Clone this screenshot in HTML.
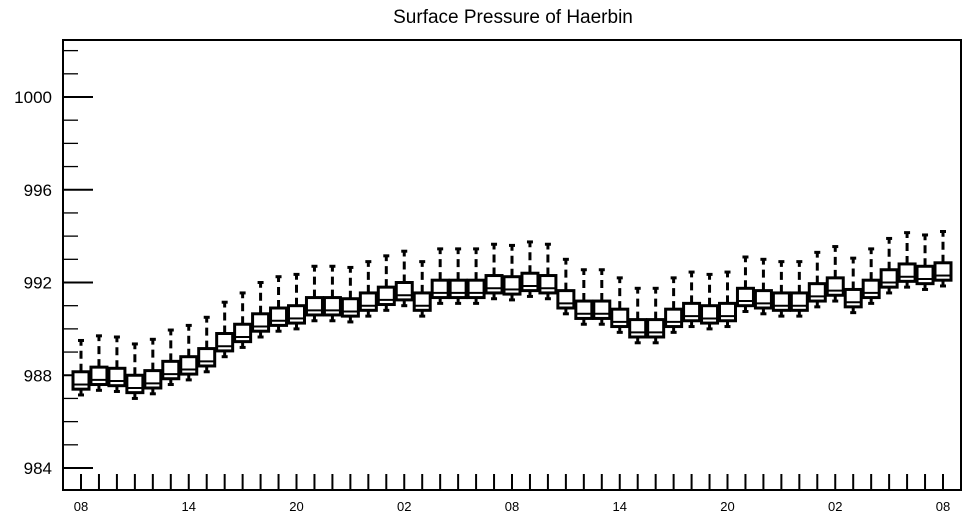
<!DOCTYPE html>
<html><head><meta charset="utf-8"><style>
html,body{margin:0;padding:0;background:#fff;}
svg{display:block;font-family:"Liberation Sans",sans-serif;}
</style></head><body>
<svg id="chart" width="968" height="518" viewBox="0 0 968 518" xmlns="http://www.w3.org/2000/svg">
<text x="513" y="23" font-size="19" text-anchor="middle" fill="#000">Surface Pressure of Haerbin</text>
<g id="axes"></g>
<g id="boxes"></g>
</svg>
<script>
const whiskerHigh=[989.5,989.7,989.65,989.35,989.55,989.95,990.15,990.5,991.15,991.55,992.0,992.25,992.35,992.7,992.7,992.65,992.9,993.15,993.35,992.9,993.45,993.45,993.45,993.65,993.6,993.75,993.65,993.0,992.55,992.55,992.2,991.75,991.75,992.2,992.45,992.35,992.45,993.1,993.0,992.9,992.9,993.3,993.55,993.05,993.45,993.9,994.15,994.05,994.2];
const q3=[988.15,988.35,988.3,988.0,988.2,988.6,988.8,989.15,989.8,990.2,990.65,990.9,991.0,991.35,991.35,991.3,991.55,991.8,992.0,991.55,992.1,992.1,992.1,992.3,992.25,992.4,992.3,991.65,991.2,991.2,990.85,990.4,990.4,990.85,991.1,991.0,991.1,991.75,991.65,991.55,991.55,991.95,992.2,991.7,992.1,992.55,992.8,992.7,992.85];
const median=[987.6,987.8,987.75,987.45,987.65,988.05,988.25,988.6,989.25,989.65,990.1,990.35,990.45,990.8,990.8,990.75,991.0,991.25,991.45,991.0,991.55,991.55,991.55,991.75,991.7,991.85,991.75,991.1,990.65,990.65,990.3,989.85,989.85,990.3,990.55,990.45,990.55,991.2,991.1,991.0,991.0,991.4,991.65,991.15,991.55,992.0,992.25,992.15,992.3];
const q1=[987.4,987.6,987.55,987.25,987.45,987.85,988.05,988.4,989.05,989.45,989.9,990.15,990.25,990.6,990.6,990.55,990.8,991.05,991.25,990.8,991.35,991.35,991.35,991.55,991.5,991.65,991.55,990.9,990.45,990.45,990.1,989.65,989.65,990.1,990.35,990.25,990.35,991.0,990.9,990.8,990.8,991.2,991.45,990.95,991.35,991.8,992.05,991.95,992.1];
const whiskerLow=[987.15,987.35,987.3,987.0,987.2,987.6,987.8,988.15,988.8,989.2,989.65,989.9,990.0,990.35,990.35,990.3,990.55,990.8,991.0,990.55,991.1,991.1,991.1,991.3,991.25,991.4,991.3,990.65,990.2,990.2,989.85,989.4,989.4,989.85,990.1,990.0,990.1,990.75,990.65,990.55,990.55,990.95,991.2,990.7,991.1,991.55,991.8,991.7,991.85];
const xTickLabels=["08","14","20","02","08","14","20","02","08"];
const yTickLabels=[984,988,992,996,1000];

const NS="http://www.w3.org/2000/svg";
const L=63,R=961,T=40,B=490;
function yScale(v){return 468+(984-v)*(371/16);}
function xScale(i){return 81+i*(862/48);}
function mk(tag,attrs,parent){const e=document.createElementNS(NS,tag);for(const k in attrs)e.setAttribute(k,attrs[k]);parent.appendChild(e);return e;}
const axes=document.getElementById('axes');
const boxes=document.getElementById('boxes');
// frame
const fr=mk('rect',{x:L,y:T,width:R-L,height:B-T,fill:'none',stroke:'#000','stroke-width':2},axes);


// y minor ticks
for(let v=984;v<=1002;v++){
  const y=yScale(v);
  const major=(v%4===0)&&v<=1000;
  const t=mk('line',{x1:L,x2:L+(major?30:15),y1:y,y2:y,stroke:'#000','stroke-width':major?2:1.3},axes);
  
  
}
yTickLabels.forEach(v=>{
  const t=mk('text',{x:52,y:yScale(v)+6,'font-size':17,'text-anchor':'end',fill:'#000'},axes);
  t.textContent=v;
  
  
});
// x ticks
for(let i=0;i<whiskerHigh.length;i++){
  const x=xScale(i);
  const t=mk('line',{x1:x,x2:x,y1:B,y2:B-16,stroke:'#000','stroke-width':2},axes);
  
  
}
xTickLabels.forEach((s,k)=>{
  const t=mk('text',{x:xScale(k*6),y:511,'font-size':13,'text-anchor':'middle',fill:'#000'},axes);
  t.textContent=s;
  
  
});
// boxes
for(let i=0;i<whiskerHigh.length;i++){
  const x=xScale(i);
  const g=mk('g',{},boxes);
  
  
  const yh=yScale(whiskerHigh[i]),y3=yScale(q3[i]),ym=yScale(median[i]),y1=yScale(q1[i]),yl=yScale(whiskerLow[i]);
  mk('line',{x1:x,x2:x,y1:y3,y2:yh,stroke:'#000','stroke-width':3,'stroke-dasharray':'8,5'},g);
  mk('line',{x1:x-3,x2:x+3,y1:yh,y2:yh,stroke:'#000','stroke-width':3},g);
  mk('line',{x1:x,x2:x,y1:y1,y2:yl,stroke:'#000','stroke-width':3},g);
  mk('line',{x1:x-3,x2:x+3,y1:yl,y2:yl,stroke:'#000','stroke-width':3},g);
  mk('rect',{x:x-8,y:y3,width:16,height:y1-y3,fill:'#fff',stroke:'#000','stroke-width':3},g);
  mk('line',{x1:x-8,x2:x+8,y1:ym,y2:ym,stroke:'#000','stroke-width':2},g);
}
</script>
</body></html>
